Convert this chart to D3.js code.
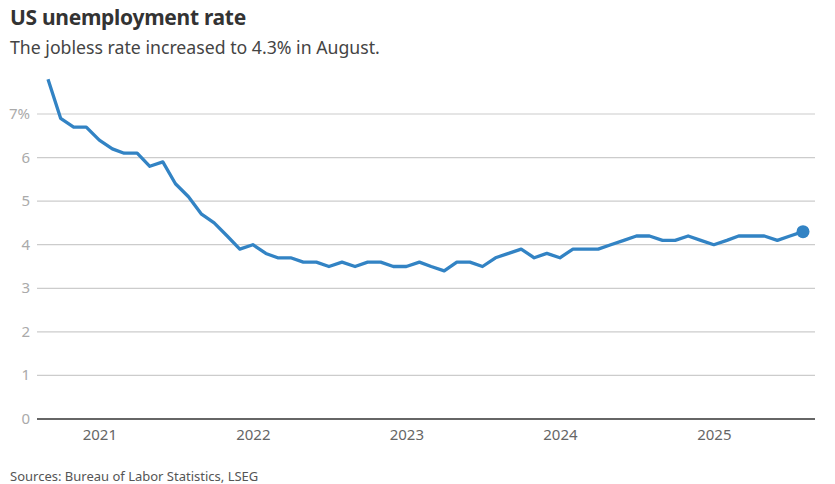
<!DOCTYPE html>
<html>
<head>
<meta charset="utf-8">
<script src="https://cdn.jsdelivr.net/npm/d3@7"></script>
<style>
  body { margin: 0; background: #fff; }
  svg text { font-family: "Noto Sans", sans-serif; }
</style>
</head>
<body>
<div id="chart"></div>
<script>
// monthly unemployment rate, Sep 2020 .. Aug 2025
var startMonth = "2020-09";
var rates = [7.8, 6.9, 6.7, 6.7,
  6.4, 6.2, 6.1, 6.1, 5.8, 5.9, 5.4, 5.1, 4.7, 4.5, 4.2, 3.9,
  4.0, 3.8, 3.7, 3.7, 3.6, 3.6, 3.5, 3.6, 3.5, 3.6, 3.6, 3.5,
  3.5, 3.6, 3.5, 3.4, 3.6, 3.6, 3.5, 3.7, 3.8, 3.9, 3.7, 3.8,
  3.7, 3.9, 3.9, 3.9, 4.0, 4.1, 4.2, 4.2, 4.1, 4.1, 4.2, 4.1,
  4.0, 4.1, 4.2, 4.2, 4.2, 4.1, 4.2, 4.3];
var yTicks = [0, 1, 2, 3, 4, 5, 6, 7];
var xTickYears = [2021, 2022, 2023, 2024, 2025];

var parse = d3.timeParse("%Y-%m");
var t0 = parse(startMonth);
var data = rates.map(function(v, i) { return {date: d3.timeMonth.offset(t0, i), value: v}; });

var w = 835, h = 484;
var svg = d3.select("#chart").append("svg").attr("width", w).attr("height", h);

var x = d3.scaleTime()
  .domain([data[0].date, data[data.length - 1].date])
  .range([48, 803]);
var y = d3.scaleLinear().domain([0, 7]).range([419, 114]);

//title and subtitle
svg.append("text").attr("x", 10).attr("y", 25)
  .attr("font-size", 21).attr("font-weight", 700).attr("fill", "#333")
  .attr("letter-spacing", -0.3)
  .text("US unemployment rate");
svg.append("text").attr("x", 10).attr("y", 54)
  .attr("font-size", 17.7).attr("fill", "#444")
  .text("The jobless rate increased to 4.3% in August.");

//gridlines
svg.selectAll(".grid").data(yTicks).enter().append("line")
  .attr("class", "grid")
  .attr("x1", 37).attr("x2", 815)
  .attr("y1", function(d) { return y(d); })
  .attr("y2", function(d) { return y(d); })
  .attr("stroke", function(d) { return d === 0 ? "#333" : "#ccc"; })
  .attr("stroke-width", function(d) { return d === 0 ? 1.5 : 1.2; });

//y labels
svg.selectAll(".ylab").data(yTicks).enter().append("text")
  .attr("class", "ylab")
  .attr("x", 30)
  .attr("y", function(d) { return y(d) + 5; })
  .attr("text-anchor", "end")
  .attr("font-size", 15).attr("fill", "#aaa")
  .text(function(d) { return d === 7 ? d + "%" : d; });

//x axis labels
var xAxis = d3.axisBottom(x)
  .tickValues(xTickYears.map(function(yr) { return new Date(yr, 0, 1); }))
  .tickFormat(d3.timeFormat("%Y"))
  .tickSize(0).tickPadding(0);
var gx = svg.append("g").attr("transform", "translate(0,429)").call(xAxis);
gx.select(".domain").remove();
gx.selectAll("text").attr("font-size", 15).attr("fill", "#666")
  .attr("font-family", "'Noto Sans', sans-serif");

//line
var line = d3.line()
  .x(function(d) { return x(d.date); })
  .y(function(d) { return y(d.value); });
svg.append("path").datum(data)
  .attr("d", line)
  .attr("fill", "none")
  .attr("stroke", "#3283c4")
  .attr("stroke-width", 3.3)
  .attr("stroke-linejoin", "round");

var last = data[data.length - 1];
svg.append("circle")
  .attr("cx", x(last.date)).attr("cy", y(last.value))
  .attr("r", 6.5).attr("fill", "#3283c4");

//source
svg.append("text").attr("x", 10).attr("y", 481)
  .attr("font-size", 13).attr("fill", "#555")
  .text("Sources: Bureau of Labor Statistics, LSEG");
</script>
</body>
</html>
